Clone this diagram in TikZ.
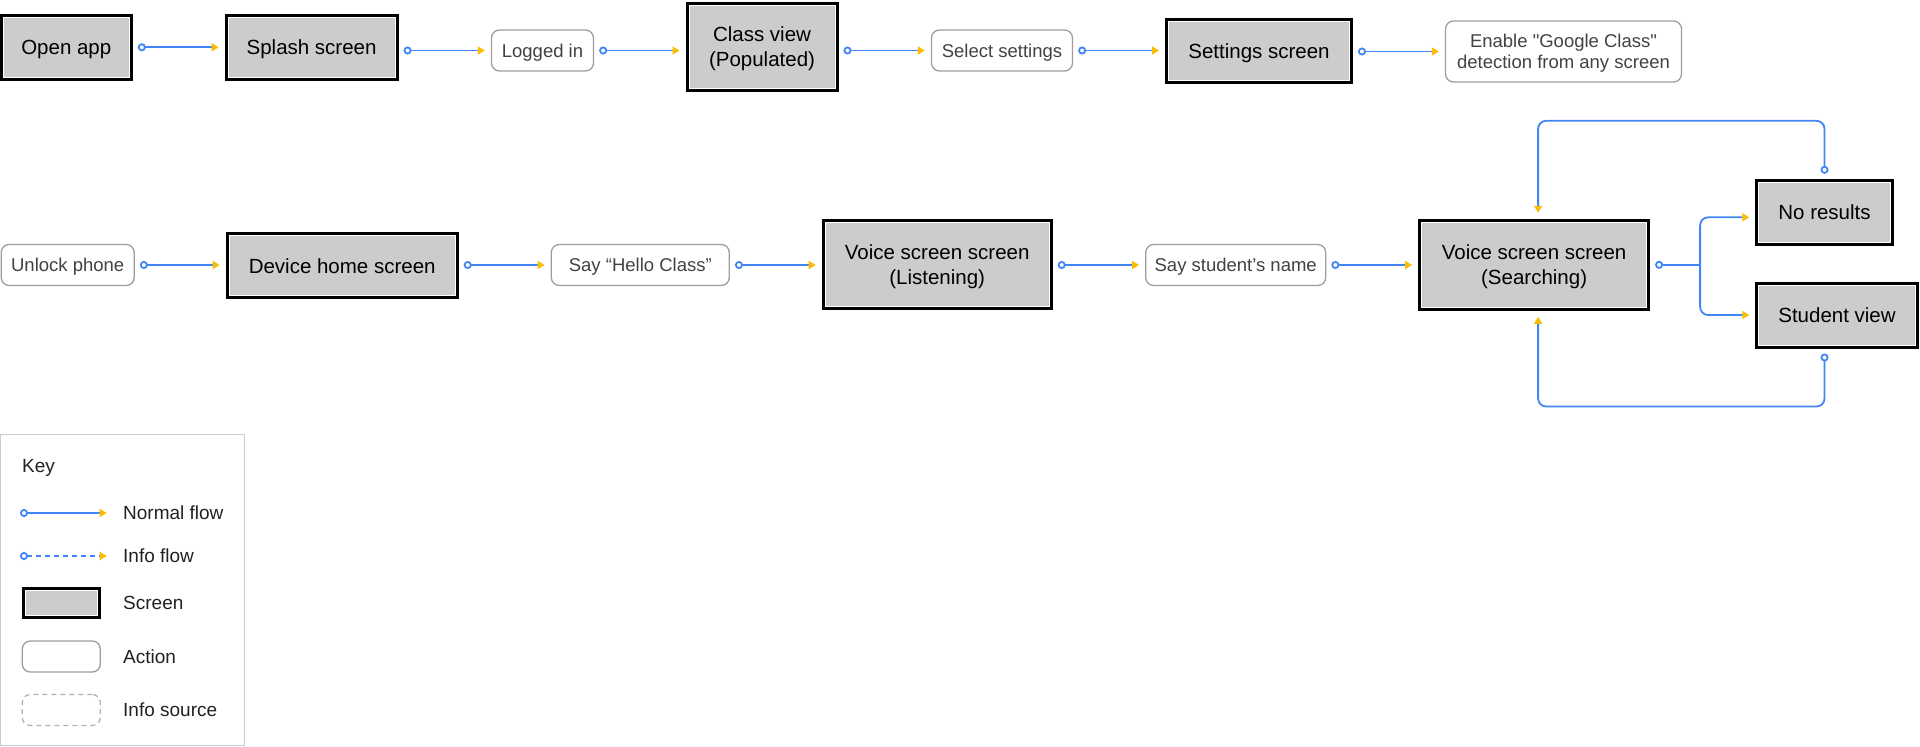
\documentclass[tikz,border=0pt]{standalone}
\usepackage{fontspec}
\setmainfont{Liberation Sans}[Ligatures=TeXOff]
\usepackage{xcolor}
\usetikzlibrary{arrows.meta}

\definecolor{gblue}{HTML}{4285F4}
\definecolor{gyellow}{HTML}{FBBC04}
\definecolor{scrgray}{HTML}{CCCCCC}
\definecolor{actgray}{HTML}{9E9E9E}
\definecolor{acttext}{HTML}{424242}
\definecolor{keygray}{HTML}{CCCCCC}

\begin{document}
\begin{tikzpicture}[x=1pt, y=-1pt,
    screen/.style={draw=black, line width=3pt, fill=scrgray, inner sep=0pt, align=center,
        text depth=0pt, font=\fontsize{20.5}{25.5}\selectfont,
        path picture={\draw[white, line width=1pt]
            ([shift={(2pt,-2pt)}]path picture bounding box.north west) rectangle
            ([shift={(-2pt,2pt)}]path picture bounding box.south east);}},
    action/.style={draw=actgray, line width=1.3pt, rounded corners=8pt, fill=white,
        text=acttext, inner sep=0pt, align=center, text depth=0pt,
        font=\fontsize{18.5}{21}\selectfont},
    source/.style={action, draw=actgray!80, dash pattern=on 5pt off 4pt},
    flowline/.style={draw=gblue, line width=1.8pt},
    tipout/.style={{Circle[open, fill=white, length=8pt, width=8pt]}-, shorten <=5pt},
    tipin/.style={-{Triangle[length=7pt, width=8pt, color=gyellow]}, shorten >=6pt},
    flow/.style={flowline, {Circle[open, fill=white, length=8pt, width=8pt]}-{Triangle[length=7pt, width=8pt, color=gyellow]},
        shorten <=5pt, shorten >=6pt},
    infoflow/.style={flow, dash pattern=on 5pt off 4pt},
    keytext/.style={anchor=west, inner sep=0pt, text=black!87, font=\fontsize{19}{23}\selectfont}
]
    \useasboundingbox (0,0) rectangle (1920,747);

    % Row 1: from opening the app to the settings
    \node[screen, minimum width=130pt, minimum height=64pt] (open) at (66.3,47.3) {Open app};
    \node[screen, minimum width=171pt, minimum height=64pt] (splash) at (311.6,47.3) {Splash screen};
    \node[action, minimum width=102pt, minimum height=41pt] (logged) at (542.5,50.5) {Logged in};
    \node[screen, minimum width=150pt, minimum height=87pt] (classv) at (762,46.7) {Class view\\(Populated)};
    \node[action, minimum width=141pt, minimum height=41pt] (selset) at (1002,50.5) {Select settings};
    \node[screen, minimum width=185pt, minimum height=63pt] (settings) at (1259,51) {Settings screen};
    \node[action, minimum width=236pt, minimum height=61pt] (enable) at (1563.5,51.5) {Enable "Google Class"\\detection from any screen};

    \draw[flow] (open) -- (splash);
    \draw[flow] (splash.east |- logged) -- (logged);
    \draw[flow] (logged) -- (classv.west |- logged);
    \draw[flow] (classv.east |- selset) -- (selset);
    \draw[flow] (selset) -- (settings.west |- selset);
    \draw[flow] (settings.east |- enable) -- (enable);

    % Row 2: voice search
    \node[action, minimum width=133pt, minimum height=41pt] (unlock) at (67.7,265) {Unlock phone};
    \node[screen, minimum width=230pt, minimum height=64pt] (device) at (342.2,265.8) {Device home screen};
    \node[action, minimum width=178pt, minimum height=41pt] (hello) at (640.3,265) {Say “Hello Class”};
    \node[screen, minimum width=228pt, minimum height=88pt] (listen) at (937.2,264.7) {Voice screen screen\\(Listening)};
    \node[action, minimum width=180pt, minimum height=41pt] (name) at (1235.7,265) {Say student’s name};
    \node[screen, minimum width=229pt, minimum height=89pt] (search) at (1534.1,264.8) {Voice screen screen\\(Searching)};
    \node[screen, minimum width=135.5pt, minimum height=64pt] (nores) at (1824.5,212.3) {No results};
    \node[screen, minimum width=160.5pt, minimum height=64pt] (student) at (1837,315) {Student view};

    \draw[flow] (unlock) -- (device.west |- unlock);
    \draw[flow] (device.east |- hello) -- (hello);
    \draw[flow] (hello) -- (listen.west |- hello);
    \draw[flow] (listen.east |- name) -- (name);
    \draw[flow] (name) -- (search.west |- name);

    % branches and loops back
    \draw[flowline, tipout] (search.east) -- ++(50,0) coordinate (fork);
    \draw[flowline, tipin, rounded corners=8pt] (fork) |- ([yshift=-5pt]nores.west);
    \draw[flowline, tipin, rounded corners=8pt] (fork) |- (student.west);
    \draw[flow, rounded corners=8pt] (nores.north) -- ++(0,-58) -| ([xshift=4pt]search.north);
    \draw[flow, rounded corners=8pt] (nores |- student.south) -- ++(0,58) -| ([xshift=4pt]search.south);

    % Key
    \draw[keygray, line width=1.3pt] (0.65,434.65) rectangle (244.35,745.35);
    \node[keytext] (key) at (22,468) {Key};

    \coordinate (nf0) at (20,513);
    \coordinate (nf1) at (106.7,513);
    \coordinate (if0) at (20,556);
    \coordinate (if1) at (106.7,556);
    \draw[flow, shorten <=0pt, shorten >=0pt] (nf0) -- (nf1);
    \draw[infoflow, shorten <=0pt, shorten >=0pt] (if0) -- (if1);
    \node[screen, minimum width=76pt, minimum height=29pt] (kscreen) at (61.3,603) {};
    \node[action, minimum width=78pt, minimum height=31pt] (kaction) at (61.3,656.5) {};
    \node[source, minimum width=78pt, minimum height=31pt] (ksource) at (61.3,710) {};

    \node[keytext] (lnormal) at (123,513) {Normal flow};
    \node[keytext] (linfo) at (123,556) {Info flow};
    \node[keytext] (lscreen) at (123,603) {Screen};
    \node[keytext] (laction) at (123,656.5) {Action};
    \node[keytext] (lsource) at (123,710) {Info source};
\end{tikzpicture}
\end{document}
